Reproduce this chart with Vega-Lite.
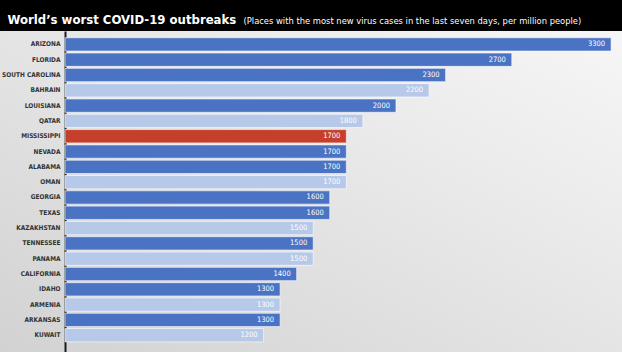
{
  "$schema": "https://vega.github.io/schema/vega-lite/v6.json",
  "width": 622,
  "height": 352,
  "autosize": {"type": "fit", "contains": "padding"},
  "padding": {"top": 13, "left": 0, "right": 0, "bottom": 0},
  "background": "#000000",
  "config": {
    "view": {
      "stroke": null,
      "fill": {"gradient": "linear", "x1": 0, "y1": 1, "x2": 1, "y2": 0, "stops": [{"offset": 0, "color": "#d2d2d2"}, {"offset": 0.7, "color": "#ececec"}, {"offset": 1, "color": "#f6f6f6"}]}
    }
  },
  "data": {
    "values": [
      {"place": "ARIZONA", "cases": 3300, "kind": "US state"},
      {"place": "FLORIDA", "cases": 2700, "kind": "US state"},
      {"place": "SOUTH CAROLINA", "cases": 2300, "kind": "US state"},
      {"place": "BAHRAIN", "cases": 2200, "kind": "Country"},
      {"place": "LOUISIANA", "cases": 2000, "kind": "US state"},
      {"place": "QATAR", "cases": 1800, "kind": "Country"},
      {"place": "MISSISSIPPI", "cases": 1700, "kind": "Mississippi"},
      {"place": "NEVADA", "cases": 1700, "kind": "US state"},
      {"place": "ALABAMA", "cases": 1700, "kind": "US state"},
      {"place": "OMAN", "cases": 1700, "kind": "Country"},
      {"place": "GEORGIA", "cases": 1600, "kind": "US state"},
      {"place": "TEXAS", "cases": 1600, "kind": "US state"},
      {"place": "KAZAKHSTAN", "cases": 1500, "kind": "Country"},
      {"place": "TENNESSEE", "cases": 1500, "kind": "US state"},
      {"place": "PANAMA", "cases": 1500, "kind": "Country"},
      {"place": "CALIFORNIA", "cases": 1400, "kind": "US state"},
      {"place": "IDAHO", "cases": 1300, "kind": "US state"},
      {"place": "ARMENIA", "cases": 1300, "kind": "Country"},
      {"place": "ARKANSAS", "cases": 1300, "kind": "US state"},
      {"place": "KUWAIT", "cases": 1200, "kind": "Country"}
    ]
  },
  "encoding": {
    "y": {
      "field": "place",
      "type": "nominal",
      "sort": null,
      "scale": {"paddingInner": 0.13, "paddingOuter": 0.55, "align": 0.4},
      "axis": {
        "orient": "left",
        "offset": -65,
        "domain": true,
        "domainColor": "#1a1a1a",
        "domainWidth": 2,
        "ticks": false,
        "labelPadding": 5,
        "labelFont": "DejaVu Sans Condensed, DejaVu Sans, sans-serif",
        "labelFontWeight": "bold",
        "labelFontSize": 6.5,
        "labelColor": "#333333",
        "title": "(Places with the most new virus cases in the last seven days, per million people)",
        "titleAngle": 0,
        "titleAlign": "left",
        "titleBaseline": "alphabetic",
        "titleX": 178,
        "titleY": -8,
        "titleColor": "#ffffff",
        "titleFont": "DejaVu Sans Condensed, DejaVu Sans, sans-serif",
        "titleFontSize": 9.3,
        "titleFontWeight": "normal"
      }
    },
    "x": {
      "field": "cases",
      "type": "quantitative",
      "scale": {"domain": [-393, 3366], "nice": false, "zero": false},
      "axis": {
        "orient": "top",
        "domain": false,
        "ticks": false,
        "labels": false,
        "grid": false,
        "title": "World’s worst COVID-19 outbreaks",
        "titleX": 7,
        "titleY": -8,
        "titleAlign": "left",
        "titleAnchor": "start",
        "titleBaseline": "alphabetic",
        "titleColor": "#ffffff",
        "titleFont": "DejaVu Sans Condensed, DejaVu Sans, sans-serif",
        "titleFontSize": 13,
        "titleFontWeight": "bold"
      }
    }
  },
  "layer": [
    {
      "mark": {"type": "bar", "stroke": "#ffffff", "strokeWidth": 0.6},
      "encoding": {
        "x": {"datum": 0},
        "x2": {"field": "cases"},
        "color": {
          "field": "kind",
          "type": "nominal",
          "scale": {"domain": ["US state", "Country", "Mississippi"], "range": ["#4a73c3", "#b7c9e8", "#c63f2d"]},
          "legend": null
        }
      }
    },
    {
      "mark": {"type": "text", "align": "right", "dx": -6, "color": "#ffffff", "fontSize": 7.5, "font": "DejaVu Sans Condensed, DejaVu Sans, sans-serif"},
      "encoding": {
        "text": {"field": "cases", "type": "quantitative", "format": "d"}
      }
    }
  ]
}
